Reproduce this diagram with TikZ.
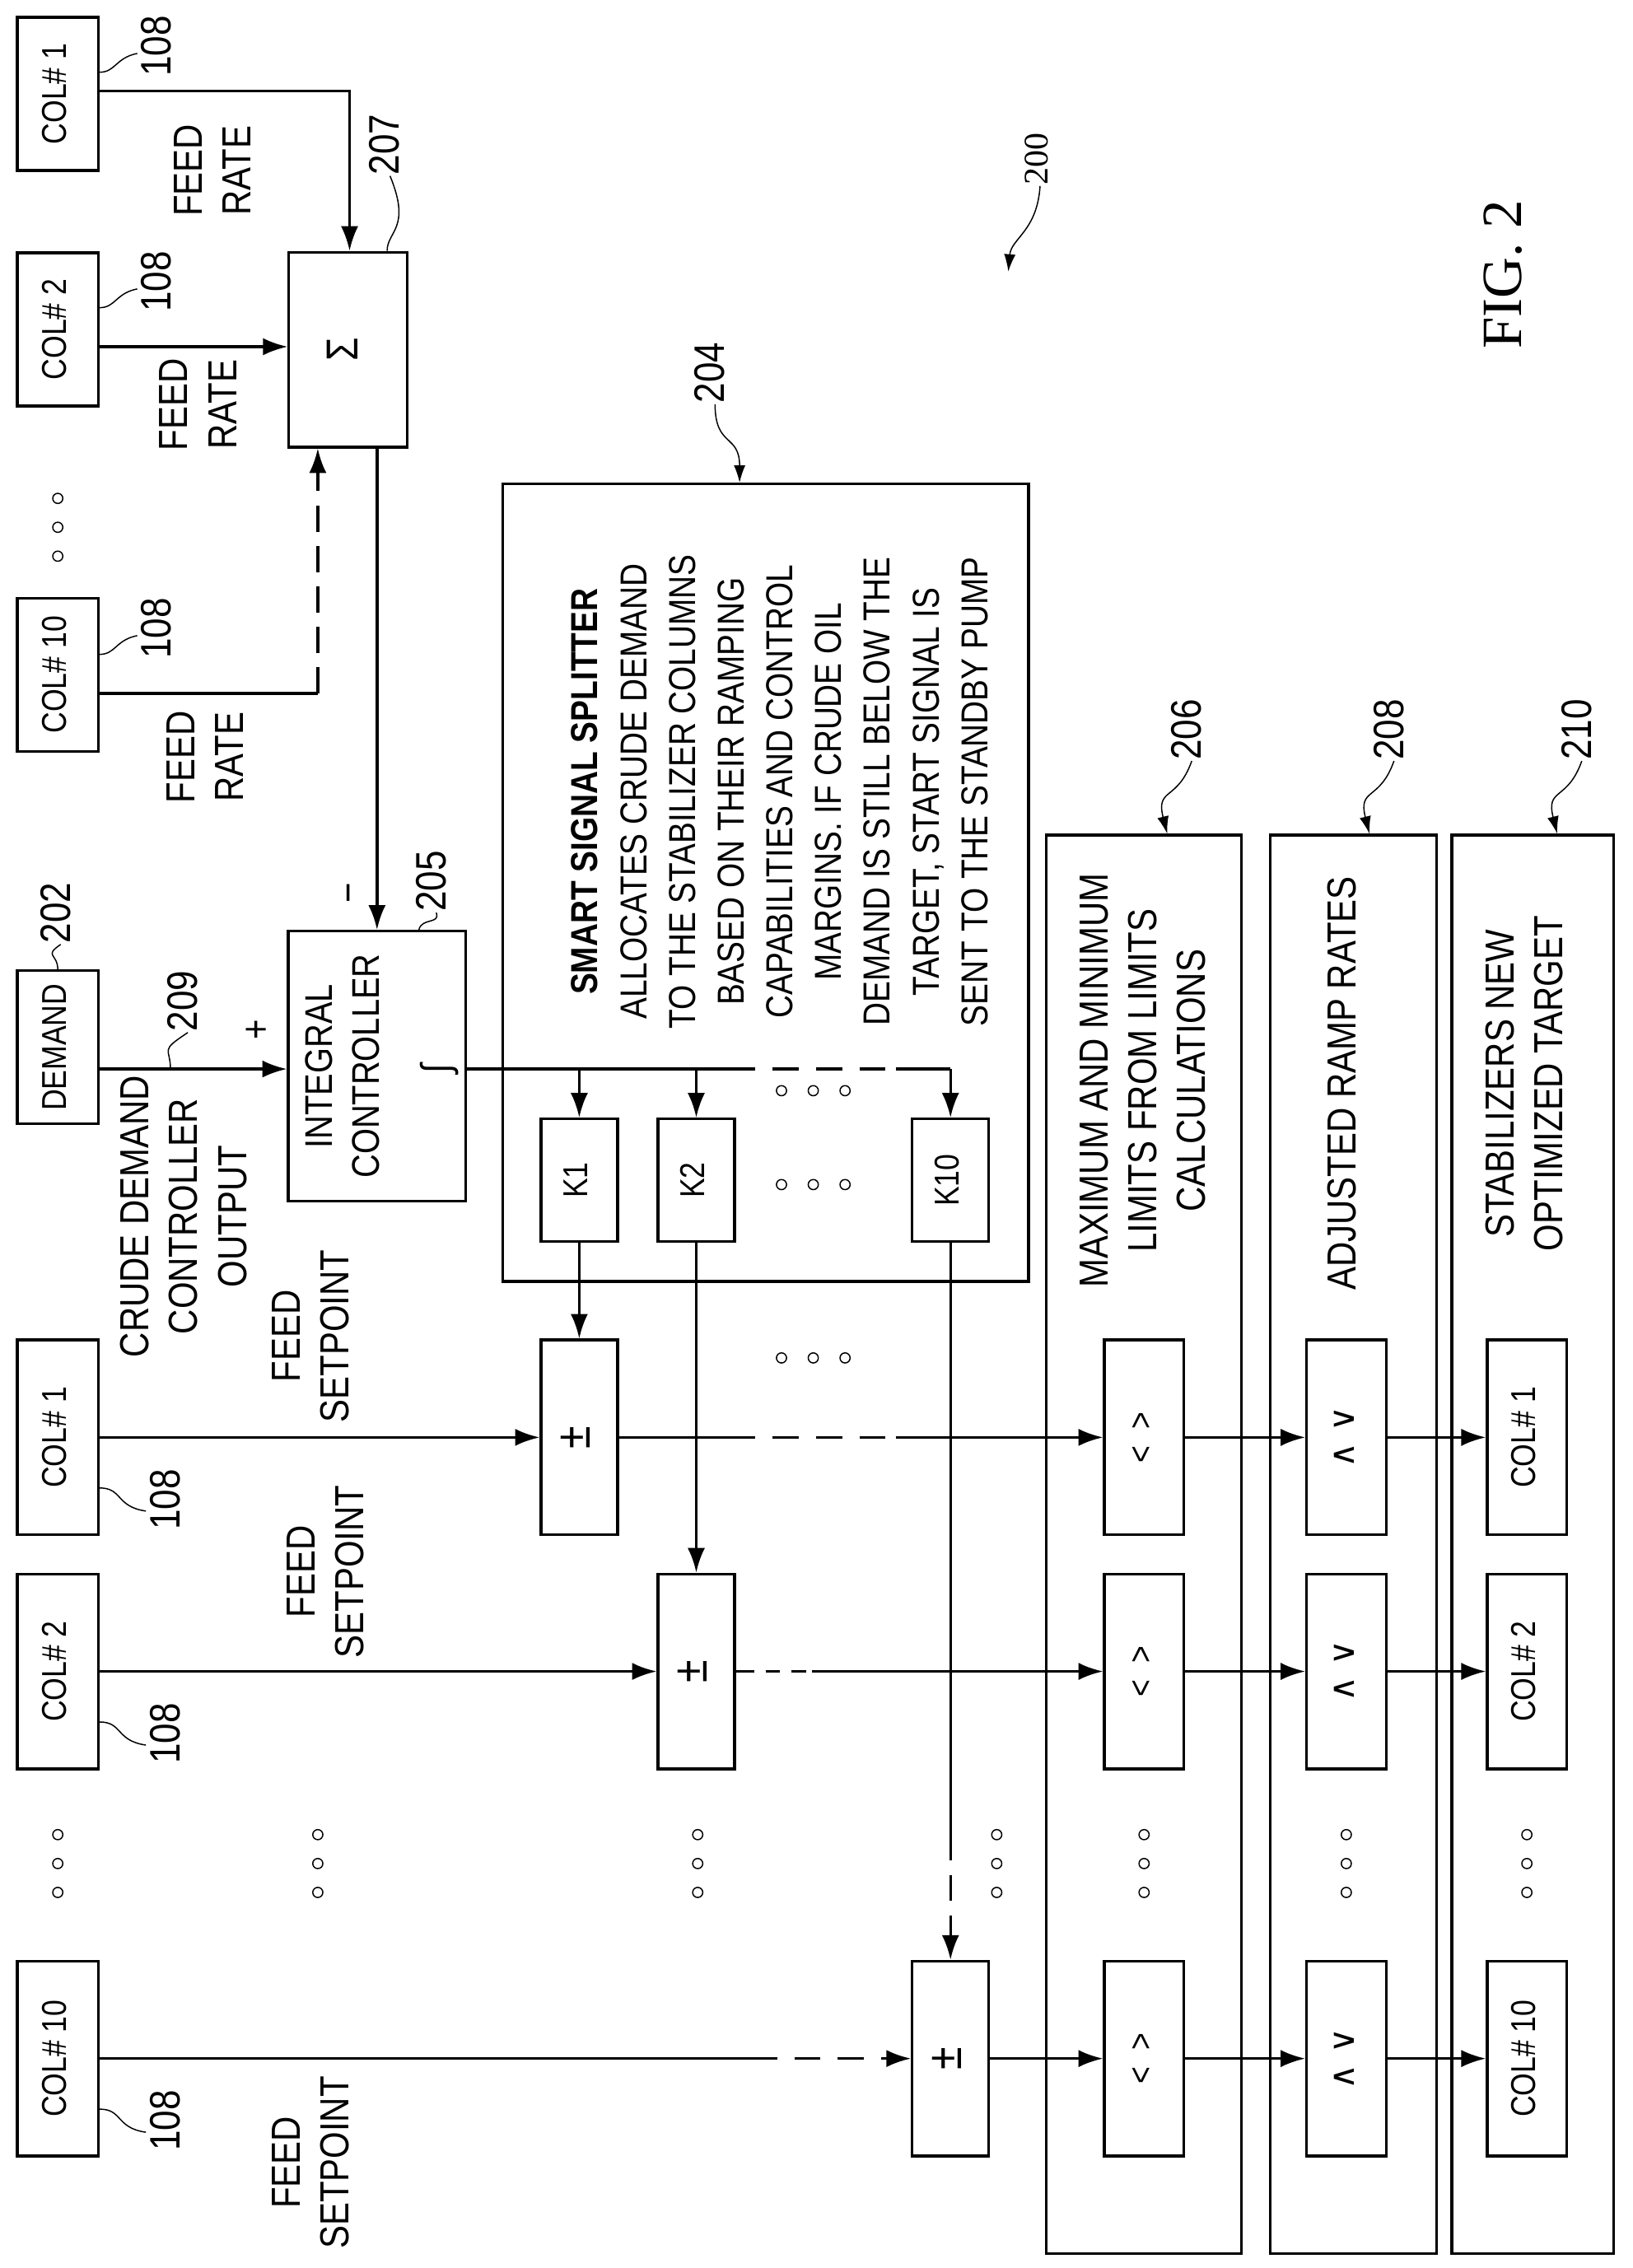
\documentclass[tikz,border=0pt]{standalone}
\usepackage{fontspec}
\setmainfont{Liberation Sans}[FakeStretch=0.85]
\newfontfamily\figfont{Liberation Serif}
\newfontfamily\symfont{DejaVu Sans}
\usetikzlibrary{arrows.meta,positioning,calc}
\newcommand{\rt}[1]{\rotatebox{90}{\begin{tabular}{@{}c@{}}#1\end{tabular}}}
\tikzset{
    blk/.style={
        draw, line width=2.6pt, inner sep=0pt,
        font=\fontsize{34}{40}\selectfont},
    sig/.style={
        line width=2.8pt, -{Latex[length=0.85cm,width=0.6cm]}},
    wire/.style={line width=2.8pt},
    gap/.style={line width=2.8pt, dash pattern=on 0.9cm off 0.6cm},
    leader/.style={line width=1.2pt},
    refno/.style={font=\fontsize{42}{46}\selectfont, inner sep=1pt},
    txt/.style={font=\fontsize{40}{48}\selectfont, inner sep=0pt},
    dot/.style={draw, line width=1.2pt, circle, inner sep=0pt, minimum size=0.35cm}
}
\begin{document}
\begin{tikzpicture}[x=0.05cm, y=-0.05cm]
\useasboundingbox (0,0) rectangle (1130,1570);

% feed rate summation
\node[blk, minimum width=2.8cm, minimum height=5.3cm] (colA1) at (40,65) {\rt{COL\# 1}};
\node[blk, minimum width=2.8cm, minimum height=5.3cm] (colA2) at (40,228) {\rt{COL\# 2}};
\node[blk, minimum width=2.8cm, minimum height=5.3cm] (colA10) at (40,467) {\rt{COL\# 10}};
\foreach \y in {345,365,385} \node[dot] (dA\y) at (40,\y) {};
\node[blk, minimum width=4.1cm, minimum height=6.75cm, font=\fontsize{44}{48}\selectfont] (sum) at (241,242) {\rt{Σ}};
\draw[sig] (colA1.east |- 0,63) -| (sum.north -| 242,0);
\draw[sig] (colA2.east |- 0,240) -- (sum.west |- 0,240);
\coordinate (fbk) at (220,480);
\draw[wire] (colA10.east |- fbk) -- (fbk);
\draw[sig, dash pattern=on 0.9cm off 0.5cm] (fbk) -- (fbk |- sum.south);
\node[txt] (frA1) at (150,118) {\rt{FEED\\RATE}};
\node[txt] (frA2) at (140,280) {\rt{FEED\\RATE}};
\node[txt] (frA10) at (145,524) {\rt{FEED\\RATE}};

% demand and integral controller
\node[blk, minimum width=2.8cm, minimum height=5.3cm] (demand) at (40,725) {\rt{DEMAND}};
\node[blk, minimum width=6.15cm, minimum height=9.35cm, font=\fontsize{38}{46}\selectfont] (integ) at (261,738) {\rt{INTEGRAL\\CONTROLLER\\[0.5cm] \hspace*{0pt}}};
\node[txt] (intsym) at (305,740) {\rt{∫}};
\draw[sig] (demand.east |- 0,740) -- (integ.west |- 0,740);
\draw[sig] (integ.north |- sum.south) -- (integ.north);
\node[txt] (plus) at (180,713) {\rt{+}};
\node[txt] (minus) at (244,618) {\rt{−}};
\node[txt] (cdco) at (130,842) {\rt{CRUDE DEMAND\\CONTROLLER\\OUTPUT}};

% smart signal splitter
\node[blk, minimum width=18.2cm, minimum height=27.6cm] (split) at (530,611) {};
\node[txt, font=\fontsize{37}{48}\selectfont] (splittxt) at (542,548) {\rt{\textbf{SMART SIGNAL SPLITTER}\\ALLOCATES CRUDE DEMAND\\TO THE STABILIZER COLUMNS\\BASED ON THEIR RAMPING\\CAPABILITIES AND CONTROL\\MARGINS. IF CRUDE OIL\\DEMAND IS STILL BELOW THE\\TARGET, START SIGNAL IS\\SENT TO THE STANDBY PUMP}};
\node[blk, minimum width=2.65cm, minimum height=4.25cm] (k1) at (401,817) {\rt{K1}};
\node[blk, minimum width=2.65cm, minimum height=4.25cm] (k2) at (482,817) {\rt{K2}};
\node[blk, minimum width=2.65cm, minimum height=4.25cm] (k10) at (658,817) {\rt{K10}};
\foreach \y in {755,820,940} {\foreach \x in {541,563,585} \node[dot] (dK\x-\y) at (\x,\y) {};}
\coordinate (oA) at (505,740);
\coordinate (oB) at (620,740);
\draw[wire] (integ.east |- oA) -- (oA);
\draw[gap] (oA) -- (oB);
\draw[wire] (oB) -- (k10.north |- oB);
\draw[sig] (k1.north |- oA) -- (k1.north);
\draw[sig] (k2.north |- oA) -- (k2.north);
\draw[sig] (k10.north |- oB) -- (k10.north);

% setpoint adjusters
\node[blk, minimum width=2.8cm, minimum height=6.75cm] (colB1) at (40,995) {\rt{COL\# 1}};
\node[blk, minimum width=2.8cm, minimum height=6.75cm] (colB2) at (40,1157) {\rt{COL\# 2}};
\node[blk, minimum width=2.8cm, minimum height=6.75cm] (colB10) at (40,1425) {\rt{COL\# 10}};
\node[blk, minimum width=2.65cm, minimum height=6.75cm, font=\fontsize{48}{52}\selectfont] (s1) at (401,995) {\rt{±}};
\node[blk, minimum width=2.65cm, minimum height=6.75cm, font=\fontsize{48}{52}\selectfont] (s2) at (482,1157) {\rt{±}};
\node[blk, minimum width=2.65cm, minimum height=6.75cm, font=\fontsize{48}{52}\selectfont] (s10) at (658,1425) {\rt{±}};
\node[txt] (fsB1) at (218,925) {\rt{FEED\\SETPOINT}};
\node[txt] (fsB2) at (228,1088) {\rt{FEED\\SETPOINT}};
\node[txt] (fsB10) at (218,1497) {\rt{FEED\\SETPOINT}};
\draw[sig] (colB1) -- (s1);
\draw[sig] (colB2) -- (s2);
\draw[sig] (k1) -- (s1);
\draw[sig] (k2) -- (s2);
\coordinate (kd) at (658,1270);
\draw[wire] (k10) -- (kd);
\draw[sig, dash pattern=on 0.9cm off 0.5cm] (kd) -- (s10);
\coordinate (cA) at (520,1425);
\coordinate (cB) at (612,1425);
\draw[wire] (colB10) -- (cA);
\draw[gap] (cA) -- (cB);
\draw[sig] (cB) -- (s10);

% limits, ramp rates, targets
\node[blk, minimum width=6.75cm, minimum height=49.1cm] (lim) at (792,1069) {};
\node[blk, minimum width=5.75cm, minimum height=49.1cm] (ramp) at (937,1069) {};
\node[blk, minimum width=5.6cm, minimum height=49.1cm] (tgt) at (1061,1069) {};
\node[txt] (limtxt) at (794,748) {\rt{MAXIMUM AND MINIMUM\\LIMITS FROM LIMITS\\CALCULATIONS}};
\node[txt] (ramptxt) at (932,750) {\rt{ADJUSTED RAMP RATES}};
\node[txt] (tgttxt) at (1058,750) {\rt{STABILIZERS NEW\\OPTIMIZED TARGET}};
\foreach \n/\y in {1/995,2/1157,10/1425}{
    \node[blk, minimum width=2.75cm, minimum height=6.75cm] (m\n) at (792,\y) {\rt{<\ \ >}};
    \node[blk, minimum width=2.75cm, minimum height=6.75cm] (r\n) at (932,\y) {\rt{\symfont ∧\ ∨}};
    \node[blk, minimum width=2.75cm, minimum height=6.75cm] (t\n) at (1057,\y) {\rt{COL\# \n}};
    \draw[sig] (m\n) -- (r\n);
    \draw[sig] (r\n) -- (t\n);
}
\draw[sig] (s10) -- (m10);
\coordinate (eA) at (505,995);
\coordinate (eB) at (620,995);
\draw[wire] (s1) -- (eA);
\draw[gap] (eA) -- (eB);
\draw[sig] (eB) -- (m1);
\coordinate (fA) at (512,1157);
\coordinate (fB) at (562,1157);
\draw[wire] (s2) -- (fA);
\draw[gap, dash pattern=on 0.5cm off 0.4cm] (fA) -- (fB);
\draw[sig] (fB) -- (m2);
\foreach \x in {40,220,483,690,792,932,1057} {\foreach \y in {1270,1290,1310} \node[dot] (dB\x-\y) at (\x,\y) {};}

% reference numerals
\foreach \n/\y in {A1/32,A2/195,A10/435} {
    \node[refno] (ref\n) at (112,\y) {\rt{108}};
    \draw[leader] (col\n.east |- 0,\y+18) .. controls (80,\y+18) and (80,\y+8) .. (ref\n.west |- 0,\y+5);
}
\foreach \n/\y in {B1/1038,B2/1200,B10/1468} {
    \node[refno] (ref\n) at (118,\y) {\rt{108}};
    \draw[leader] (col\n.east |- 0,\y-8) .. controls (85,\y-8) and (80,\y+5) .. (ref\n.west |- 0,\y+8);
}
\node[refno] (r207) at (270,100) {\rt{207}};
\draw[leader] (sum.north -| 268,0) .. controls (268,160) and (285,158) .. (r207.south);
\node[refno] (r202) at (42,632) {\rt{202}};
\draw[leader] (demand.north) .. controls (40,660) and (30,662) .. (r202.south);
\node[refno] (r209) at (130,693) {\rt{209}};
\draw[leader] (118,740) .. controls (118,725) and (110,728) .. (r209.south);
\node[refno] (r205) at (302,610) {\rt{205}};
\draw[leader] (integ.north -| 290,0) .. controls (292,635) and (305,640) .. (r205.south);
\node[refno] (r204) at (495,258) {\rt{204}};
\draw[leader, -{Latex[length=0.6cm,width=0.4cm]}] (r204.south) .. controls (495,310) and (512,300) .. (split.north -| 512,0);
\node[refno] (r206) at (825,505) {\rt{206}};
\draw[leader, -{Latex[length=0.6cm,width=0.4cm]}] (r206.south) .. controls (815,555) and (800,545) .. (lim.north -| 808,0);
\node[refno] (r208) at (965,505) {\rt{208}};
\draw[leader, -{Latex[length=0.6cm,width=0.4cm]}] (r208.south) .. controls (955,555) and (940,545) .. (ramp.north -| 948,0);
\node[refno] (r210) at (1095,505) {\rt{210}};
\draw[leader, -{Latex[length=0.6cm,width=0.4cm]}] (r210.south) .. controls (1085,555) and (1070,545) .. (tgt.north -| 1078,0);
\node[refno, font=\figfont\fontsize{34}{38}\selectfont] (r200) at (720,110) {\rt{200}};
\coordinate (p200) at (698,188);
\draw[leader, -{Latex[length=0.6cm,width=0.4cm]}] (r200.south) .. controls (718,160) and (700,165) .. (p200);
\node[font=\figfont\fontsize{56}{60}\selectfont] (fig) at (1045,190) {\rt{FIG. 2}};
\end{tikzpicture}
\end{document}
